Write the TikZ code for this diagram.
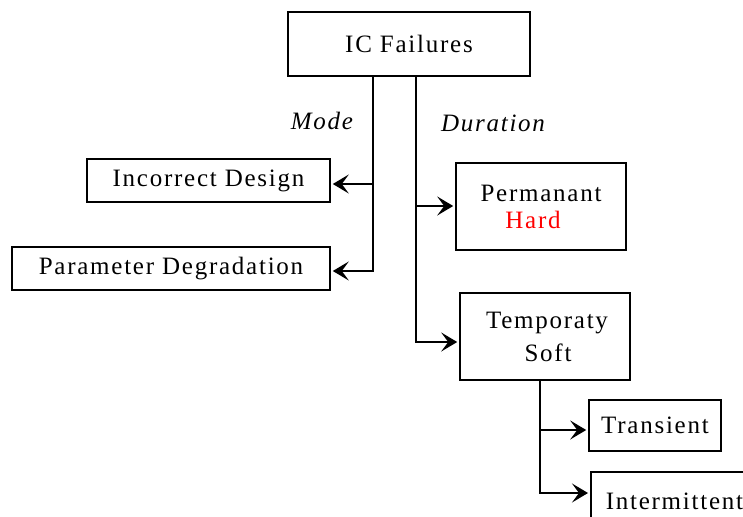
\documentclass[tikz,border=0pt]{standalone}
\usepackage{fontspec}
\setmainfont{Liberation Serif}[LetterSpace=7]
\usetikzlibrary{arrows.meta}
\tikzset{>={Stealth[length=16pt,width=19pt,inset=7pt]}}
\begin{document}
\begin{tikzpicture}[x=1pt,y=-1pt,
  box/.style={draw,line width=1.6pt,inner sep=0pt,align=center,
    font=\fontsize{25}{27}\selectfont},
  lbl/.style={font=\fontsize{25}{27}\selectfont\itshape},
  conn/.style={line width=1.6pt,->,shorten >=2pt}]
\useasboundingbox (0,0) rectangle (743,516);
\node[box,minimum width=242pt,minimum height=64pt] (ic) at (409,44) {IC Failures};
\node[box,minimum width=243pt,minimum height=43pt] (incd) at (208.5,180.5) {Incorrect Design};
\node[box,minimum width=318pt,minimum height=43pt] (param) at (171,268.5) {Parameter Degradation};
\node[box,minimum width=170pt,minimum height=87pt] (perm) at (541,206.5) {Permanant\\\hspace*{-16pt}\textcolor{red}{Hard}};
\node[box,minimum width=170pt,minimum height=87pt,font=\fontsize{25}{33}\selectfont] (temp) at (545,336.5) {\hspace*{4pt}Temporaty\\\hspace*{6pt}Soft};
\node[box,minimum width=132pt,minimum height=51pt] (trans) at (655,425.5) {Transient};
\node[box,minimum width=200pt,minimum height=60pt,anchor=north west,text width=190pt,align=left] (inter) at (590,471) {\hspace{10pt}Intermittent\\[-2pt]};
\node[lbl] (mode) at (322,121) {Mode};
\node[lbl] (dur) at (493,123) {Duration};
\coordinate (mt) at (373,76);
\coordinate (dt) at (416,76);
\coordinate (st) at (540,380);
\draw[conn] (mt) |- (incd.east |- 0,184);
\draw[conn] (mt) |- (param.east |- 0,271);
\draw[conn] (dt) |- (perm.west |- 0,206);
\draw[conn] (dt) |- (temp.west |- 0,342);
\draw[conn] (st) |- (trans.west |- 0,430);
\draw[conn] (st) |- (inter.west |- 0,493);
\end{tikzpicture}
\end{document}
